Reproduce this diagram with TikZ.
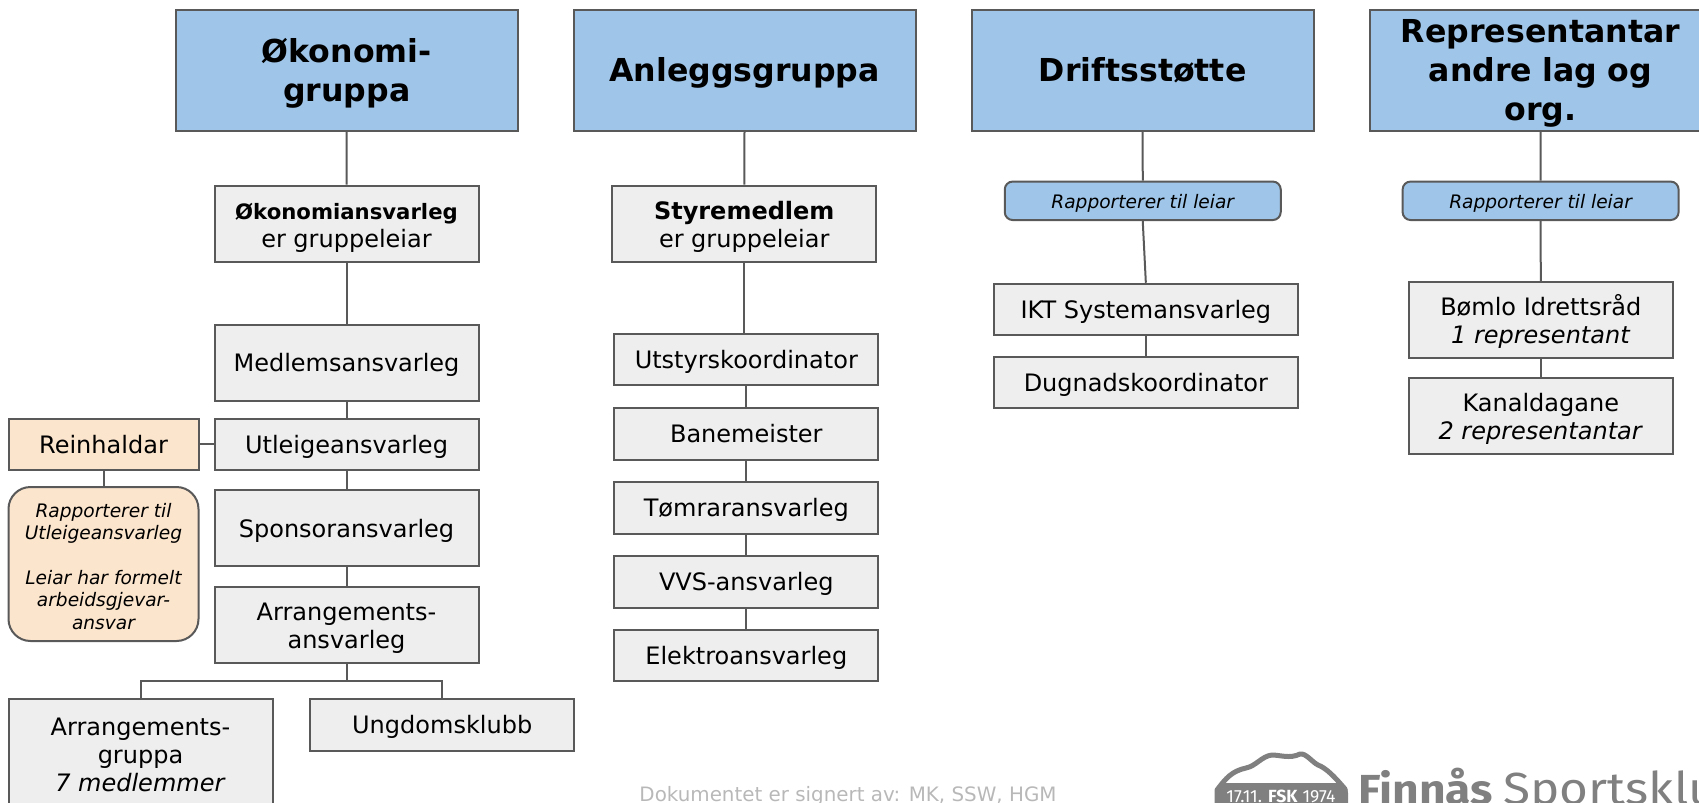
\documentclass[tikz,border=0pt]{standalone}
\usepackage{fontspec}
\setmainfont{DejaVu Sans}
\newfontfamily\logofont{Fira Sans}
\newfontfamily\logowide[FakeStretch=1.1]{Fira Sans}
\usepackage{xcolor}
\usetikzlibrary{positioning,calc}
\definecolor{headblue}{HTML}{9FC5E8}
\definecolor{boxgray}{HTML}{EEEEEE}
\definecolor{notepeach}{HTML}{FCE5CD}
\definecolor{edgegray}{HTML}{595959}
\definecolor{logogray}{HTML}{808080}
\newcommand{\linepad}{\rule{0pt}{12.3pt}}
\tikzset{
  strutted/.style 2 args={execute at begin node={\rule{0pt}{#1}}, execute at end node={\rule[-#2]{0pt}{#2}}},
  basebox/.style={draw=edgegray, line width=1pt, inner sep=0pt, align=center},
  headbox/.style={basebox, fill=headblue, minimum width=171pt, minimum height=60.5pt, text width=165pt, strutted={16pt}{4.3pt}, font=\fontsize{15.8}{19.4}\selectfont\bfseries},
  rolebox/.style={basebox, fill=boxgray, minimum width=132pt, minimum height=25.75pt, strutted={11.9pt}{3pt}, font=\fontsize{12}{14}\selectfont},
  tallbox/.style={rolebox, minimum height=38pt},
  notetext/.style={strutted={9.9pt}{2.4pt}, font=\fontsize{9.3}{11.2}\selectfont\itshape},
  reportbox/.style={basebox, notetext, rounded corners=4pt, fill=headblue, minimum width=138pt, minimum height=19.25pt},
  linkline/.style={edgegray, line width=1pt}
}
\begin{document}
\begin{tikzpicture}[x=0.5pt, y=-0.5pt]
\useasboundingbox (0,0) rectangle (1699,803);
\clip (0,0) rectangle (1699,803);
% Group headers
\node[headbox] (okonomi) at (346.7,70) {Økonomi-\\gruppa};
\node[headbox] (anlegg) at (744.5,70) {Anleggsgruppa};
\node[headbox] (drift) at (1142.7,70) {Driftsstøtte};
\node[headbox] (repr) at (1540.5,70) {Representantar\\andre lag og\\org.};
% Okonomi column
\node[tallbox] (okoansv) at (346.5,223.7) {\linepad{\fontsize{10.6}{14}\selectfont\bfseries Økonomiansvarleg}\\er gruppeleiar};
\node[tallbox] (medlem) at (346.5,362.5) {Medlemsansvarleg};
\node[rolebox] (utleige) at (346.5,444.4) {Utleigeansvarleg};
\node[tallbox] (sponsor) at (346.5,528.4) {Sponsoransvarleg};
\node[tallbox] (arrang) at (346.5,624.8) {\linepad Arrangements-\\ansvarleg};
\node[rolebox, fill=notepeach, minimum width=95pt] (reinhald) at (103.5,444.4) {Reinhaldar};
\node[basebox, notetext, rounded corners=11pt, fill=notepeach, minimum width=95pt, minimum height=77pt] (reinnote) at (103.5,564) {\rule{0pt}{11.5pt}Rapporterer til\\Utleigeansvarleg\\[11.2pt]Leiar har formelt\\arbeidsgjevar-\\ansvar};
\node[rolebox, minimum height=55pt] (arrgruppe) at (140.5,754) {\linepad Arrangements-\\gruppa\\\textit{7 medlemmer}};
\node[rolebox] (ungdom) at (442.2,725) {Ungdomsklubb};
\coordinate (arrfork) at (346.5,681);
% Anlegg column
\node[tallbox] (styre) at (744.25,223.7) {\linepad\textbf{Styremedlem}\\er gruppeleiar};
\node[rolebox] (utstyr) at (746.3,359.5) {Utstyrskoordinator};
\node[rolebox] (bane) at (746.3,433.8) {Banemeister};
\node[rolebox] (tomrar) at (746.3,508) {Tømraransvarleg};
\node[rolebox] (vvs) at (746.3,582) {VVS-ansvarleg};
\node[rolebox] (elektro) at (746.3,655.5) {Elektroansvarleg};
% Drift column
\node[reportbox] (driftrapp) at (1142.75,200.8) {Rapporterer til leiar};
\node[rolebox, minimum width=152pt] (ikt) at (1145.85,309.5) {IKT Systemansvarleg};
\node[rolebox, minimum width=152pt] (dugnad) at (1145.85,382.5) {Dugnadskoordinator};
% Representant column
\node[reportbox] (reprrapp) at (1540.6,200.8) {Rapporterer til leiar};
\node[tallbox] (bomlo) at (1540.8,320) {\linepad Bømlo Idrettsråd\\\textit{1 representant}};
\node[tallbox] (kanal) at (1540.8,416) {\linepad Kanaldagane\\\textit{2 representantar}};
% Connectors
\foreach \a/\b in {okonomi/okoansv,okoansv/medlem,medlem/utleige,utleige/sponsor,sponsor/arrang,
    anlegg/styre,utstyr/bane,bane/tomrar,tomrar/vvs,vvs/elektro,
    drift/driftrapp,driftrapp/ikt,ikt/dugnad,repr/reprrapp,reprrapp/bomlo,bomlo/kanal,reinhald/reinnote}
    \draw[linkline] (\a.south) -- (\b.north);
\draw[linkline] (styre.south) -- (styre.south |- utstyr.north);
\draw[linkline] (reinhald.east) -- (utleige.west);
\draw[linkline] (arrang.south) -- (arrfork);
\draw[linkline] (arrfork) -| (arrgruppe.north);
\draw[linkline] (arrfork) -| (ungdom.north);
% Footer
\node[text=black!28, font=\fontsize{9.93}{11}\selectfont] (signert) at (848,796) {Dokumentet er signert av: MK, SSW, HGM};
% Logo
\draw[logogray, line width=2.5pt, fill=white, line join=round] (1217,790) .. controls (1226,778) and (1232,771) .. (1246,768) .. controls (1256,766) and (1262,756) .. (1272,755) .. controls (1280,755) and (1290,759) .. (1300,754) .. controls (1306,753) and (1312,762) .. (1318,765) .. controls (1326,768) and (1334,776) .. (1345,789) -- (1345,810) -- (1217,810) -- cycle;
\fill[logogray, rounded corners=5pt] (1215,783) rectangle (1348,820);
\node[anchor=base, inner sep=0pt, text=white, font=\logofont\fontsize{8.8}{10}\selectfont] (logoband) at (1281,802) {17.11. \textbf{FSK} 1974};
\node[anchor=base west, inner sep=0pt, text=logogray, font=\logowide\fontsize{21}{22}\selectfont\bfseries] (logoname) at (1358,804) {Finnås};
\node[anchor=base west, inner sep=0pt, text=logogray, font=\logowide\fontsize{22.5}{23}\selectfont] (logoklubb) at (1503,804) {Sportsklubb};
\end{tikzpicture}
\end{document}
